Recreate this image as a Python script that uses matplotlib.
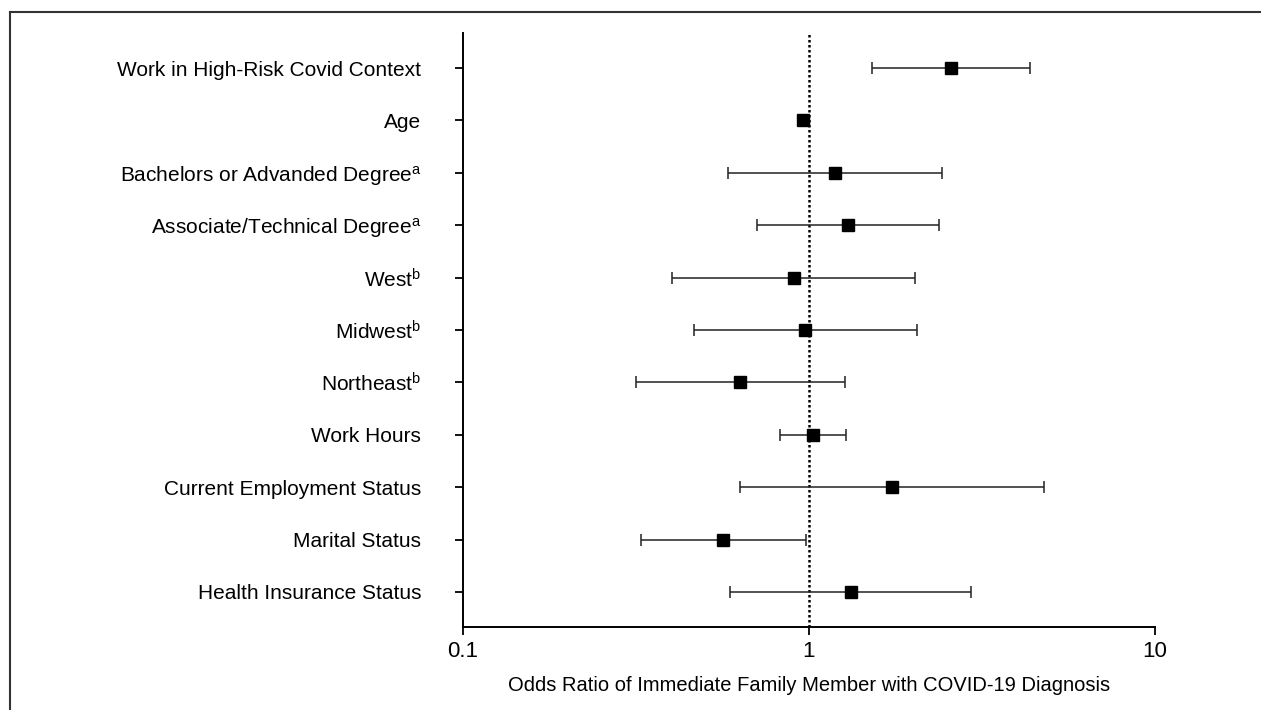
import matplotlib
matplotlib.use("Agg")
import matplotlib.pyplot as plt
from matplotlib.lines import Line2D
import numpy as np

plt.rcParams['font.family'] = ['Liberation Sans', 'DejaVu Sans']
plt.rcParams['mathtext.fontset'] = 'custom'
plt.rcParams['mathtext.rm'] = 'Liberation Sans'
plt.rcParams['mathtext.it'] = 'Liberation Sans'

labels = [
    "Work in High-Risk Covid Context",
    "Age",
    r"Bachelors or Advanded Degree$^{\mathrm{a}}$",
    r"Associate/Technical Degree$^{\mathrm{a}}$",
    r"West$^{\mathrm{b}}$",
    r"Midwest$^{\mathrm{b}}$",
    r"Northeast$^{\mathrm{b}}$",
    "Work Hours",
    "Current Employment Status",
    "Marital Status",
    "Health Insurance Status",
]
odds_ratio = [2.57, 0.96, 1.19, 1.30, 0.905, 0.976, 0.632, 1.027, 1.74, 0.565, 1.32]
ci_low     = [1.52, 0.945, 0.582, 0.709, 0.403, 0.466, 0.316, 0.826, 0.63, 0.327, 0.592]
ci_high    = [4.36, 0.98, 2.42, 2.37, 2.03, 2.05, 1.27, 1.28, 4.79, 0.982, 2.94]
xticks = [0.1, 1, 10]
xticklabels = ["0.1", "1", "10"]

W, H = 1261, 710
fig = plt.figure(figsize=(W / 100, H / 100), dpi=100)
ax = fig.add_axes([463 / W, 1 - 627 / H, (1155 - 463) / W, (627 - 33) / H])

y = np.arange(len(labels))
or_ = np.array(odds_ratio)
err = np.vstack([or_ - np.array(ci_low), np.array(ci_high) - or_])

ax.axvline(1, color='black', linestyle=(0, (1, 1)), linewidth=1.8, zorder=1)
ax.errorbar(or_, y, xerr=err, fmt='s', color='black', ecolor='#222222',
            markersize=8.5, elinewidth=1.1, capsize=4.3, capthick=1.1, zorder=3)

ax.set_xscale('log')
ax.set_xlim(0.1, 10)
ax.set_ylim(len(labels) - 1 + 0.668, -0.668)
ax.set_xticks(xticks)
ax.set_xticklabels(xticklabels, fontsize=16)
ax.xaxis.set_minor_locator(matplotlib.ticker.NullLocator())
ax.set_yticks(y)
ax.set_yticklabels(labels, fontsize=15)
ax.tick_params(axis='y', length=6, width=1.3, pad=24, direction='out')
ax.tick_params(axis='x', length=6, width=1.3, pad=4, direction='out')

for s in ['top', 'right']:
    ax.spines[s].set_visible(False)
for s in ['left', 'bottom']:
    ax.spines[s].set_linewidth(1.4)

ax.set_xlabel("Odds Ratio of Immediate Family Member with COVID-19 Diagnosis",
              fontsize=14.5, labelpad=10)

# frame around the figure (top and left edges)
fig.add_artist(Line2D([10 / W, 10 / W], [0, 1 - 12 / H], color='#333333', linewidth=1.5,
                      transform=fig.transFigure))
fig.add_artist(Line2D([10 / W, 1], [1 - 12 / H, 1 - 12 / H], color='#333333', linewidth=1.5,
                      transform=fig.transFigure))

fig.savefig("out.png", dpi=100)
